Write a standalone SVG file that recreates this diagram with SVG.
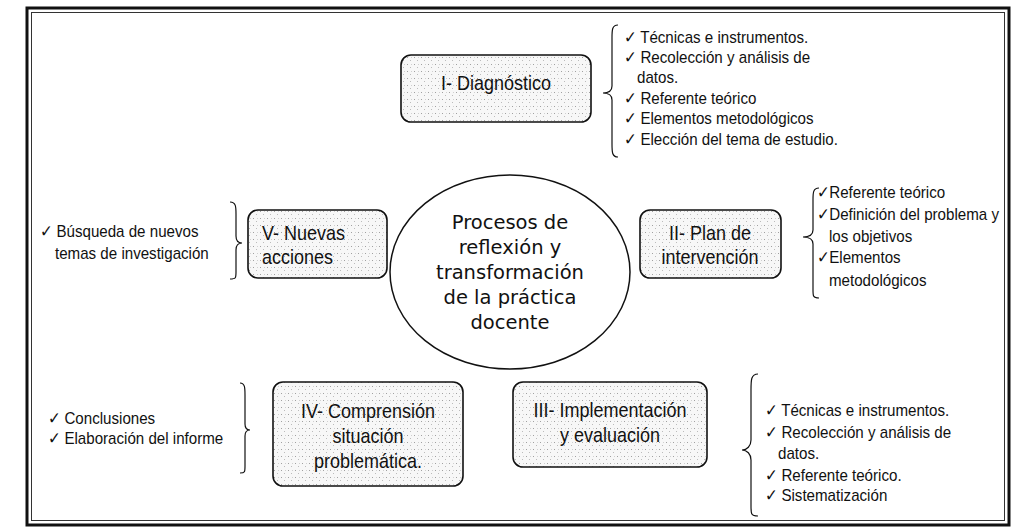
<svg xmlns="http://www.w3.org/2000/svg" width="1016" height="532" viewBox="0 0 1016 532">
<defs>
<pattern id="stip" width="7" height="7" patternUnits="userSpaceOnUse">
<rect width="7" height="7" fill="#f7f7f7"/>
<rect x="1" y="1" width="1" height="1" fill="#a0a0a0"/>
<rect x="4" y="4" width="1" height="1" fill="#bbbbbb"/>
<rect x="5" y="1" width="1" height="1" fill="#d0d0d0"/>
</pattern>
</defs>
<style>
.box{fill:url(#stip);stroke:#111;stroke-width:1.6}
.lbl{font-family:"Liberation Sans",Arial,sans-serif;font-size:20px;fill:#111;text-anchor:middle}
.lbs{font-family:"Liberation Sans",Arial,sans-serif;font-size:20px;fill:#111}
.lst text{font-family:"Liberation Sans",Arial,sans-serif;font-size:17px;fill:#111}
.brace{fill:none;stroke:#111;stroke-width:1.2}
.ctr{font-family:"DejaVu Sans",Verdana,sans-serif;font-size:19.5px;fill:#111;text-anchor:middle}
</style>
<rect width="1016" height="532" fill="#fff"/>
<g id="frame">
<rect x="27" y="8" width="982" height="517" fill="none" stroke="#111" stroke-width="3"/>
<rect x="31.5" y="12.5" width="973" height="508" fill="none" stroke="#333" stroke-width="1"/>
</g>
<g id="center">
<ellipse cx="510" cy="272" rx="120" ry="97" fill="#fff" stroke="#111" stroke-width="1.5"/>
<text class="ctr" x="510" y="229">Procesos de</text>
<text class="ctr" x="510" y="254">reflexión y</text>
<text class="ctr" x="510" y="279">transformación</text>
<text class="ctr" x="510" y="304">de la práctica</text>
<text class="ctr" x="510" y="329">docente</text>
</g>
<g id="n1">
<rect class="box" x="401" y="55" width="190" height="67" rx="10"/>
<text class="lbl" transform="translate(496,90) scale(0.9,1)">I- Diagnóstico</text>
</g>
<g id="n2">
<rect class="box" x="640" y="210" width="141" height="68" rx="10"/>
<text class="lbl" transform="translate(710,240) scale(0.9,1)">II- Plan de</text>
<text class="lbl" transform="translate(710,264) scale(0.9,1)">intervención</text>
</g>
<g id="n3">
<rect class="box" x="513" y="382" width="194" height="85" rx="10"/>
<text class="lbl" transform="translate(610,417) scale(0.9,1)">III- Implementación</text>
<text class="lbl" transform="translate(610,442) scale(0.9,1)">y evaluación</text>
</g>
<g id="n4">
<rect class="box" x="273" y="382" width="190" height="104" rx="10"/>
<text class="lbl" transform="translate(368,418) scale(0.9,1)">IV- Comprensión</text>
<text class="lbl" transform="translate(368,443) scale(0.9,1)">situación</text>
<text class="lbl" transform="translate(368,468) scale(0.9,1)">problemática.</text>
</g>
<g id="n5">
<rect class="box" x="248" y="210" width="139" height="68" rx="10"/>
<text class="lbs" transform="translate(262,240) scale(0.9,1)">V- Nuevas</text>
<text class="lbs" transform="translate(262,264) scale(0.9,1)">acciones</text>
</g>
<g id="connectors">
<path class="brace" d="M618,25 C612,25 612,30 612,38 L612,86 C612,91 608,93 603,93 C608,93 612,95 612,100 L612,144 C612,152 612,157 618,157"/>
<path class="brace" d="M819,188 C813,188 813,193 813,200 L813,230 C813,235 809,237 803,237 C809,237 813,239 813,244 L813,290 C813,296 813,298 819,298"/>
<path class="brace" d="M230,202 C236,202 236,207 236,214 L236,236 C236,241 239,243 242,243 C239,243 236,245 236,250 L236,272 C236,278 236,279 230,279"/>
<path class="brace" d="M240,383 C245,383 245,388 245,395 L245,424 C245,428 247,430 250,430 C247,430 245,432 245,436 L245,466 C245,472 245,473 240,473"/>
<path class="brace" d="M758,374 C751,374 751,380 751,390 L751,440 C751,446 747,450 742,450 C747,450 751,454 751,460 L751,506 C751,514 751,516 758,516"/>
</g>
<g id="list1" class="lst">
<text transform="translate(624,43) scale(0.89,1)">✓ Técnicas e instrumentos.</text>
<text transform="translate(624,63) scale(0.89,1)">✓ Recolección y análisis de</text>
<text transform="translate(637,83) scale(0.89,1)">datos.</text>
<text transform="translate(624,104) scale(0.89,1)">✓ Referente teórico</text>
<text transform="translate(624,124) scale(0.89,1)">✓ Elementos metodológicos</text>
<text transform="translate(624,145) scale(0.89,1)">✓ Elección del tema de estudio.</text>
</g>
<g id="list2" class="lst">
<text transform="translate(817,198) scale(0.89,1)">✓Referente teórico</text>
<text transform="translate(817,220) scale(0.89,1)">✓Definición del problema y</text>
<text transform="translate(829,242) scale(0.89,1)">los objetivos</text>
<text transform="translate(817,263) scale(0.89,1)">✓Elementos</text>
<text transform="translate(829,286) scale(0.89,1)">metodológicos</text>
</g>
<g id="list3" class="lst">
<text transform="translate(765,416) scale(0.89,1)">✓ Técnicas e instrumentos.</text>
<text transform="translate(765,438) scale(0.89,1)">✓ Recolección y análisis de</text>
<text transform="translate(778,459) scale(0.89,1)">datos.</text>
<text transform="translate(765,481) scale(0.89,1)">✓ Referente teórico.</text>
<text transform="translate(765,501) scale(0.89,1)">✓ Sistematización</text>
</g>
<g id="list4" class="lst">
<text transform="translate(48,424) scale(0.89,1)">✓ Conclusiones</text>
<text transform="translate(48,444) scale(0.89,1)">✓ Elaboración del informe</text>
</g>
<g id="list5" class="lst">
<text transform="translate(40,237) scale(0.89,1)">✓ Búsqueda de nuevos</text>
<text transform="translate(55,259) scale(0.89,1)">temas de investigación</text>
</g>
</svg>
